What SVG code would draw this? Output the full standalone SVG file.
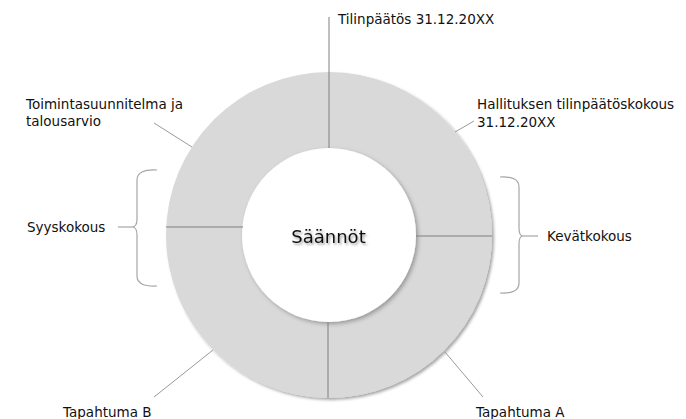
<svg xmlns="http://www.w3.org/2000/svg" width="686" height="419" viewBox="0 0 686 419">
  <defs>
    <filter id="ringShadow" x="-20%" y="-20%" width="140%" height="140%">
      <feDropShadow dx="2" dy="2" stdDeviation="1.5" flood-color="#000" flood-opacity="0.35"/>
    </filter>
    <filter id="innerShadow" x="-20%" y="-20%" width="140%" height="140%">
      <feDropShadow dx="2" dy="2" stdDeviation="2" flood-color="#000" flood-opacity="0.3"/>
    </filter>
    <filter id="textShadow" x="-20%" y="-40%" width="140%" height="180%">
      <feDropShadow dx="1.5" dy="2" stdDeviation="1.2" flood-color="#000" flood-opacity="0.35"/>
    </filter>
  </defs>
  <style>
    .lbl { font-family: "DejaVu Sans", "Liberation Sans", sans-serif; font-size: 13.5px; fill: #111; }
    .title { font-family: "DejaVu Sans", "Liberation Sans", sans-serif; font-size: 18px; fill: #111; }
    .conn { stroke: #7f7f7f; stroke-width: 1; fill: none; }
    .lead { stroke: #9a9a9a; stroke-width: 1; fill: none; }
    .brace { stroke: #a6a6a6; stroke-width: 1.2; fill: none; }
  </style>
  <rect width="686" height="419" fill="#fff"/>

  <g id="ring">
    <circle cx="329" cy="235" r="163" fill="#d9d9d9" filter="url(#ringShadow)"/>
  </g>
  <g id="center">
    <circle cx="329" cy="235" r="87" fill="#fff" filter="url(#innerShadow)"/>
    <text class="title" x="328.5" y="243" text-anchor="middle" filter="url(#textShadow)">Säännöt</text>
  </g>

  <g id="connectors">
    <line class="conn" x1="329" y1="17" x2="329" y2="148"/>
    <line class="conn" x1="166" y1="227" x2="243" y2="227"/>
    <line class="conn" x1="416" y1="236" x2="492" y2="236"/>
    <line class="conn" x1="328" y1="322" x2="328" y2="398"/>
    <line class="lead" x1="154" y1="123" x2="192" y2="147"/>
    <line class="lead" x1="474" y1="121" x2="455" y2="132"/>
    <line class="lead" x1="154" y1="397" x2="213" y2="350"/>
    <line class="lead" x1="483" y1="397" x2="445" y2="352"/>
    <path class="brace" d="M157,170 Q137,169 137,180 L137,219 Q137,227 132,227 Q137,227 137,235 L137,276 Q137,287 157,286"/>
    <line class="brace" x1="118" y1="227" x2="132" y2="227"/>
    <path class="brace" d="M500,177 Q519,176 519,187 L519,228 Q519,236 523,236 Q519,236 519,244 L519,283 Q519,294 500,293"/>
    <line class="brace" x1="523" y1="236" x2="538" y2="236"/>
  </g>

  <g id="tilinpaatos">
    <text class="lbl" x="338" y="24">Tilinpäätös 31.12.20XX</text>
  </g>
  <g id="toimintasuunnitelma">
    <text class="lbl" x="26" y="109">Toimintasuunnitelma ja</text>
    <text class="lbl" x="26" y="126">talousarvio</text>
  </g>
  <g id="hallituksen">
    <text class="lbl" x="477" y="109">Hallituksen tilinpäätöskokous</text>
    <text class="lbl" x="477" y="127">31.12.20XX</text>
  </g>
  <g id="syyskokous">
    <text class="lbl" x="27" y="232">Syyskokous</text>
  </g>
  <g id="kevatkokous">
    <text class="lbl" x="547" y="241">Kevätkokous</text>
  </g>
  <g id="tapahtumaB">
    <text class="lbl" x="63" y="417">Tapahtuma B</text>
  </g>
  <g id="tapahtumaA">
    <text class="lbl" x="476" y="417">Tapahtuma A</text>
  </g>
</svg>
